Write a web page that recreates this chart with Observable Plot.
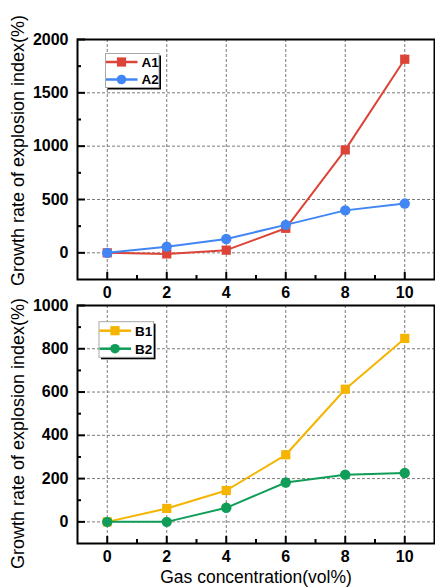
<!DOCTYPE html>
<html><head><meta charset="utf-8">
<script src="https://cdn.jsdelivr.net/npm/d3@7"></script>
<script src="https://cdn.jsdelivr.net/npm/@observablehq/plot@0.6"></script>
<style>
html,body{margin:0;padding:0;background:#fff;}
#chart{position:relative;width:435px;height:587px;overflow:hidden;}
#chart svg{display:block;overflow:visible;}
</style></head><body><div id="chart"></div>
<script>
// ---- data ----
const concentration = [0, 2, 4, 6, 8, 10];
const A1 = [0, -10, 25, 230, 965, 1815];
const A2 = [0, 58, 130, 262, 398, 462];
const B1 = [0, 62, 145, 310, 613, 848];
const B2 = [0, 0, 65, 182, 218, 226];
const seriesTop = ["A1", "A2"];
const seriesBottom = ["B1", "B2"];
const xTicks = [0, 2, 4, 6, 8, 10];
const xMinorTicks = [1, 3, 5, 7, 9];
const topYTicks = [0, 500, 1000, 1500, 2000];
const topYMinorTicks = [250, 750, 1250, 1750];
const bottomYTicks = [0, 200, 400, 600, 800, 1000];
const bottomYMinorTicks = [100, 300, 500, 700, 900];
const yTitle = "Growth rate of explosion index(%)";
const xTitle = "Gas concentration(vol%)";

const colors = {A1: "#DB4437", A2: "#4285F4", B1: "#F4B400", B2: "#0F9D58"};
const symbols = {A1: "square", A2: "circle", B1: "square", B2: "circle"};
const FONT = "'Liberation Sans', Arial, Helvetica, sans-serif";

function panel(o) {
  const W = 435, ML = 77, MR = 1;
  const fh = o.height - o.marginTop - o.marginBottom;
  const fw = W - ML - MR;
  const rows = o.series.flatMap(s => o.values[s].map((v, i) => ({x: concentration[i], y: v, s})));
  const marks = [
    Plot.gridX(xTicks, {stroke: "#7a7a7a", strokeOpacity: 1, strokeWidth: 1, strokeDasharray: "3,2"}),
    Plot.gridY(o.yTicks, {stroke: "#7a7a7a", strokeOpacity: 1, strokeWidth: 1, strokeDasharray: "3,2"}),
    Plot.tickX(xTicks, {x: d => d, stroke: "black", strokeWidth: 2, insetTop: fh - 7}),
    Plot.tickX(xMinorTicks, {x: d => d, stroke: "black", strokeWidth: 2, insetTop: fh - 4}),
    Plot.tickY(o.yTicks, {y: d => d, stroke: "black", strokeWidth: 2, insetRight: fw - 8}),
    Plot.tickY(o.yMinor, {y: d => d, stroke: "black", strokeWidth: 2, insetRight: fw - 4}),
    Plot.axisX(xTicks, {tickSize: 0, tickPadding: 7, fontSize: 16, fontWeight: "bold", fill: "black", label: null, tickFormat: d3.format("d")}),
    Plot.axisY(o.yTicks, {tickSize: 0, tickPadding: 9, fontSize: 16, fontWeight: "bold", fill: "black", label: null, tickFormat: d3.format("d")}),
  ];
  for (const s of o.series) {
    const d = rows.filter(r => r.s === s);
    marks.push(Plot.line(d, {x: "x", y: "y", stroke: colors[s], strokeWidth: 2}));
    marks.push(Plot.dot(d, {x: "x", y: "y", fill: colors[s], stroke: "none", r: 5.2, symbol: symbols[s]}));
  }
  marks.push(Plot.frame({stroke: "black", strokeWidth: 2}));
  const svg = Plot.plot({
    width: W, height: o.height,
    marginTop: o.marginTop, marginBottom: o.marginBottom, marginLeft: ML, marginRight: MR,
    x: {domain: [-1, 11]},
    y: {domain: o.yDomain},
    style: {fontFamily: FONT, background: "transparent", overflow: "visible"},
    marks
  });
  const g = d3.select(svg);
  // y title
  g.append("text")
    .attr("transform", `translate(24,${o.yTitleCenter}) rotate(-90)`)
    .attr("text-anchor", "middle")
    .attr("font-family", FONT).attr("font-size", 18).attr("fill", "black")
    .text(yTitle);
  // legend
  const L = o.legend;
  const lg = g.append("g");
  lg.append("rect").attr("x", L.x + 2).attr("y", L.y + 2).attr("width", L.w).attr("height", L.h).attr("fill", "black");
  lg.append("rect").attr("x", L.x).attr("y", L.y).attr("width", L.w).attr("height", L.h)
    .attr("fill", "white").attr("stroke", "#a8a8a8").attr("stroke-width", 1);
  o.series.forEach((s, i) => {
    const yy = L.y + L.rows[i];
    lg.append("line").attr("x1", L.x + 0.5).attr("x2", L.x + 32).attr("y1", yy).attr("y2", yy)
      .attr("stroke", colors[s]).attr("stroke-width", 2.5);
    const mx = L.x + 16;
    if (symbols[s] === "square") {
      lg.append("rect").attr("x", mx - 4.6).attr("y", yy - 4.6).attr("width", 9.2).attr("height", 9.2).attr("fill", colors[s]);
    } else {
      lg.append("circle").attr("cx", mx).attr("cy", yy).attr("r", 4.8).attr("fill", colors[s]);
    }
    lg.append("text").attr("x", L.x + 36).attr("y", yy).attr("dy", "0.36em")
      .attr("text-anchor", "start")
      .attr("font-family", FONT).attr("font-size", 13.5).attr("font-weight", "bold").attr("fill", "black")
      .text(s);
  });
  if (o.xTitle) {
    g.append("text").attr("x", 256).attr("y", o.xTitleY).attr("text-anchor", "middle")
      .attr("font-family", FONT).attr("font-size", 17.5).attr("fill", "black").text(o.xTitle);
  }
  return svg;
}

const chart = document.getElementById("chart");
chart.appendChild(panel({
  height: 298, marginTop: 39, marginBottom: 19,
  yDomain: [-250, 2000], yTicks: topYTicks, yMinor: topYMinorTicks,
  series: seriesTop, values: {A1, A2},
  yTitleCenter: 150.5,
  legend: {x: 105.5, y: 53.5, w: 53.5, h: 34, rows: [8.5, 26]}
}));
chart.appendChild(panel({
  height: 289, marginTop: 7, marginBottom: 44,
  yDomain: [-100, 1000], yTicks: bottomYTicks, yMinor: bottomYMinorTicks,
  series: seriesBottom, values: {B1, B2},
  yTitleCenter: 135.5,
  legend: {x: 99, y: 23.7, w: 54.5, h: 35.6, rows: [9, 27]},
  xTitle: xTitle, xTitleY: 284.5
}));
</script></body></html>
